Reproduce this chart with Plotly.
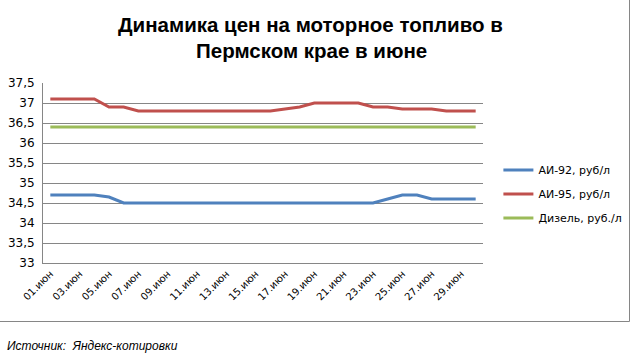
import plotly.graph_objects as go

days = [f"{d:02d}.июн" for d in range(1, 31)]
ai92 = [34.7, 34.7, 34.7, 34.7, 34.65, 34.5, 34.5, 34.5, 34.5, 34.5,
        34.5, 34.5, 34.5, 34.5, 34.5, 34.5, 34.5, 34.5, 34.5, 34.5,
        34.5, 34.5, 34.5, 34.6, 34.7, 34.7, 34.6, 34.6, 34.6, 34.6]
ai95 = [37.1, 37.1, 37.1, 37.1, 36.9, 36.9, 36.8, 36.8, 36.8, 36.8,
        36.8, 36.8, 36.8, 36.8, 36.8, 36.8, 36.85, 36.9, 37.0, 37.0,
        37.0, 37.0, 36.9, 36.9, 36.85, 36.85, 36.85, 36.8, 36.8, 36.8]
diesel = [36.4] * 30
series_names = ["АИ-92, руб/л", "АИ-95, руб/л", "Дизель, руб./л"]
colors = ["#4F81BD", "#C0504D", "#9BBB59"]
tick_labels = days[::2]

fig = go.Figure()
for i, (name, vals) in enumerate(zip(series_names, [ai92, ai95, diesel])):
    fig.add_trace(go.Scatter(x=days, y=vals, mode="lines", name=name,
                             legendgroup=f"g{i}",
                             line=dict(color=colors[i], width=3)))

L, T, W, H = 43, 83, 440, 180

def px(xp):
    return (xp - L) / W

def py(yp):
    return (T + H - yp) / H

fig.update_layout(
    width=631, height=359,
    margin=dict(l=L, r=631 - L - W, t=T, b=359 - T - H, autoexpand=False),
    paper_bgcolor="white", plot_bgcolor="white",
    separators=", ",
    showlegend=True,
    legend=dict(x=1.035, y=py(194), xanchor="left", yanchor="middle",
                font=dict(family="DejaVu Sans", size=11, color="#000000"),
                tracegroupgap=5, itemwidth=30, traceorder="grouped",
                bgcolor="rgba(0,0,0,0)"),
    xaxis=dict(type="category", range=[-0.5, 29.5], automargin=False,
               tickmode="array", tickvals=tick_labels, ticktext=tick_labels,
               tickangle=-45, showgrid=False, showline=True,
               linecolor="#868686", linewidth=1, ticks="",
               tickfont=dict(family="DejaVu Sans", size=10, color="#000000")),
    yaxis=dict(range=[33, 37.5], dtick=0.5, tick0=33, showgrid=True, automargin=False,
               gridcolor="#868686", gridwidth=1, showline=True,
               linecolor="#868686", linewidth=1, zeroline=False, ticks="",
               ticklabelstandoff=5,
               tickfont=dict(family="DejaVu Sans", size=12, color="#000000")),
    annotations=[
        dict(text="<b>Динамика цен на моторное топливо в</b>", xref="paper", yref="paper",
             x=px(310), y=py(24), xanchor="center", yanchor="middle", showarrow=False,
             font=dict(family="Liberation Sans", size=20.5, color="#000000")),
        dict(text="<b>Пермском крае в июне</b>", xref="paper", yref="paper",
             x=px(311), y=py(50), xanchor="center", yanchor="middle", showarrow=False,
             font=dict(family="Liberation Sans", size=20.5, color="#000000")),
        dict(text="<i>Источник:  Яндекс-котировки</i>", xref="paper", yref="paper",
             x=px(5), y=py(346), xanchor="left", yanchor="middle", showarrow=False,
             font=dict(family="Liberation Sans", size=12, color="#000000")),
    ],
    shapes=[
        dict(type="line", xref="paper", yref="paper", x0=px(629.5), x1=px(629.5),
             y0=py(0), y1=py(321.5), line=dict(color="#868686", width=1)),
        dict(type="line", xref="paper", yref="paper", x0=px(0), x1=px(629.5),
             y0=py(321.5), y1=py(321.5), line=dict(color="#868686", width=1)),
    ],
)

fig.write_html("out.html", config={"displayModeBar": False},
               post_script="document.body.style.margin='0';document.body.style.overflow='hidden';")
